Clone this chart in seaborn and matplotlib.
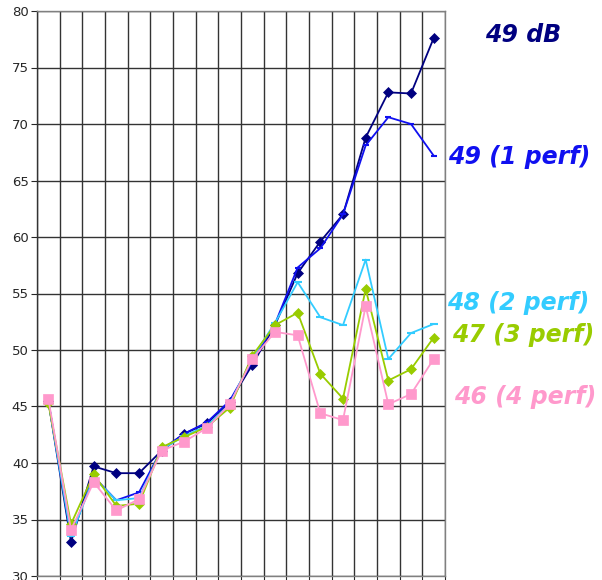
import numpy as np
import pandas as pd
import matplotlib
matplotlib.use("Agg")
import matplotlib.pyplot as plt
import seaborn as sns

# 18 measurement points (category axis, no labels shown)
points = list(range(18))

db49 = [45.5, 33.0, 39.7, 39.1, 39.1, 41.1, 42.6, 43.5, 45.4, 48.7,
        52.2, 56.8, 59.6, 62.0, 68.8, 72.8, 72.7, 77.6]
perf1 = [45.5, 33.6, 38.8, 36.7, 37.4, 41.2, 42.6, 43.6, 45.5, 49.0,
         52.3, 57.3, 59.0, 62.0, 68.1, 70.6, 70.0, 67.2]
perf2 = [45.5, 33.5, 38.7, 36.7, 36.9, 41.2, 42.4, 43.3, 45.2, 49.3,
         52.4, 56.0, 52.9, 52.2, 58.0, 49.2, 51.5, 52.3]
perf3 = [45.3, 34.6, 39.0, 36.2, 36.4, 41.4, 42.3, 43.2, 44.9, 49.5,
         52.2, 53.3, 47.9, 45.7, 55.4, 47.3, 48.3, 51.1]
perf4 = [45.7, 34.1, 38.3, 35.8, 36.8, 41.1, 41.9, 43.1, 45.2, 49.2,
         51.6, 51.3, 44.4, 43.8, 53.9, 45.2, 46.1, 49.2]

series_names = ["49 dB", "49 (1 perf)", "48 (2 perf)", "47 (3 perf)", "46 (4 perf)"]
series_values = [db49, perf1, perf2, perf3, perf4]
colors = ["#000080", "#1010F0", "#33CCFF", "#99CC00", "#FF99CC"]
markers = ["D", "_", "_", "D", "s"]
marker_sizes = [5, 5, 6, 5, 7]
label_y = [77.9, 67.1, 54.2, 51.3, 45.8]
label_x = [19.25, 17.63, 17.6, 17.8, 17.9]

sns.set_style("white")

fig = plt.figure(figsize=(6.02, 5.80), dpi=100)
ax = fig.add_axes([37 / 602, 4 / 580, 408 / 602, 565 / 580])

for name, vals, col, mk, ms in zip(series_names, series_values, colors, markers, marker_sizes):
    df = pd.DataFrame({"x": points, "y": vals})
    sns.lineplot(data=df, x="x", y="y", ax=ax, color=col, marker=mk,
                 markersize=ms, markeredgecolor=col, markeredgewidth=1.5 if mk == "_" else 0.5,
                 linewidth=1.3, legend=False, clip_on=False, zorder=3)

ax.set_xlim(-0.5, 17.5)
ax.set_ylim(30, 80)
ax.set_yticks(np.arange(30, 81, 5))
ax.set_xticks(np.arange(-0.5, 17.6, 1))
ax.set_xticklabels([])
ax.grid(True, color="#333333", linewidth=1.0, zorder=0)
ax.set_axisbelow(True)
ax.set_xlabel("")
ax.set_ylabel("")
ax.tick_params(axis="y", labelsize=9.5, length=4, direction="out", left=True, pad=2)
ax.tick_params(axis="x", length=4, direction="out", bottom=True)
for s in ax.spines.values():
    s.set_color("#808080")
    s.set_linewidth(1.0)
ax.spines["left"].set_color("#333333")

for name, col, lx, ly in zip(series_names, colors, label_x, label_y):
    ax.text(lx, ly, name, color=col, fontsize=17, fontweight="bold", fontstyle="italic",
            ha="left", va="center", clip_on=False)

fig.savefig("out.png", dpi=100)
